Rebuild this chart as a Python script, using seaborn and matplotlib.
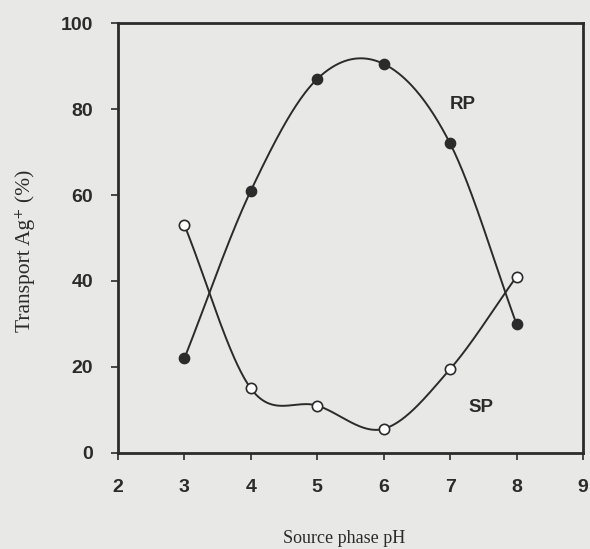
import numpy as np
import pandas as pd
import matplotlib
matplotlib.use("Agg")
import matplotlib.pyplot as plt
import seaborn as sns

ph = [3, 4, 5, 6, 7, 8]
rp_values = [22, 61, 87, 90.5, 72, 30]
sp_values = [53, 15, 11, 5.6, 19.5, 41]
x_ticks = [2, 3, 4, 5, 6, 7, 8, 9]
y_ticks = [0, 20, 40, 60, 80, 100]


def smooth_curve(x, y, per_seg=60):
    """Cubic Hermite (Catmull-Rom style) curve through the given points."""
    x = np.asarray(x, float)
    y = np.asarray(y, float)
    n = len(x)
    m = np.empty(n)
    m[0] = (y[1] - y[0]) / (x[1] - x[0])
    m[-1] = (y[-1] - y[-2]) / (x[-1] - x[-2])
    for i in range(1, n - 1):
        m[i] = (y[i + 1] - y[i - 1]) / (x[i + 1] - x[i - 1])
    xs_all, ys_all = [], []
    for i in range(n - 1):
        h = x[i + 1] - x[i]
        t = np.linspace(0, 1, per_seg, endpoint=(i == n - 2))
        h00 = 2 * t ** 3 - 3 * t ** 2 + 1
        h10 = t ** 3 - 2 * t ** 2 + t
        h01 = -2 * t ** 3 + 3 * t ** 2
        h11 = t ** 3 - t ** 2
        xs_all.append(x[i] + t * h)
        ys_all.append(h00 * y[i] + h10 * h * m[i] + h01 * y[i + 1] + h11 * h * m[i + 1])
    return np.concatenate(xs_all), np.concatenate(ys_all)


sns.set_theme(style="ticks")
plt.rcParams['font.family'] = ['Liberation Sans', 'DejaVu Sans']

bg = "#e8e8e6"
ink = "#2b2b2b"
fig = plt.figure(figsize=(5.9, 5.49), dpi=100, facecolor=bg)
ax = fig.add_axes([0.2, 0.175, 0.788, 0.783])
ax.set_facecolor(bg)

rx, ry = smooth_curve(ph, rp_values)
sx, sy = smooth_curve(ph, sp_values)
df_curve = pd.DataFrame({
    "pH": np.concatenate([rx, sx]),
    "val": np.concatenate([ry, sy]),
    "series": ["RP"] * len(rx) + ["SP"] * len(sx),
})
sns.lineplot(data=df_curve, x="pH", y="val", hue="series", palette=[ink, ink],
             linewidth=1.4, legend=False, ax=ax, sort=False, estimator=None)

sns.scatterplot(x=ph, y=rp_values, color=ink, edgecolor=ink, s=55, linewidth=1.0,
                ax=ax, zorder=5, legend=False)
sns.scatterplot(x=ph, y=sp_values, color="white", edgecolor=ink, s=55, linewidth=1.2,
                ax=ax, zorder=5, legend=False)

ax.set_xlim(2, 9)
ax.set_ylim(0, 100)
ax.set_xticks(x_ticks)
ax.set_yticks(y_ticks)
ax.tick_params(axis="both", direction="out", length=5, width=1.2, color=ink,
               labelsize=14, labelcolor=ink)
ax.tick_params(axis="x", pad=14)
ax.tick_params(axis="y", pad=13)
for lbl in ax.get_xticklabels() + ax.get_yticklabels():
    lbl.set_fontweight("bold")
for sp in ax.spines.values():
    sp.set_visible(True)
    sp.set_color(ink)
    sp.set_linewidth(2.0)

ax.set_xlabel("")
ax.set_ylabel("")
ax.text(0.486, -0.2, "Source phase pH", transform=ax.transAxes, ha="center", va="center",
        fontsize=13, family=["Liberation Serif", "DejaVu Serif"], color=ink)
ax.text(-0.2, 0.47, "Transport Ag\u207a (%)", transform=ax.transAxes, ha="center", va="center",
        rotation=90, fontsize=15.5, family=["Liberation Serif", "DejaVu Serif"], color=ink)

ax.text(7.0, 80, "RP", fontsize=13.5, fontweight="bold", color=ink)
ax.text(7.28, 9.5, "SP", fontsize=13.5, fontweight="bold", color=ink)

fig.savefig("out.png", dpi=100, facecolor=bg)
